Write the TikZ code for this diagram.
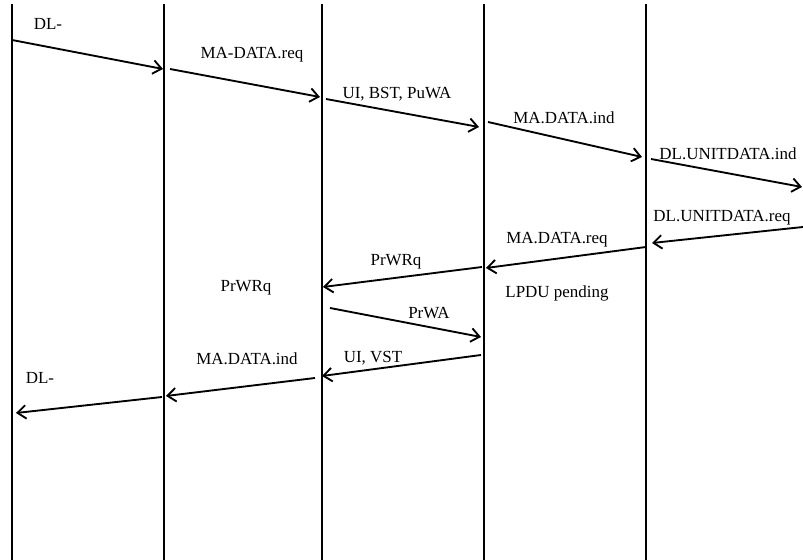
\documentclass[tikz,border=0pt]{standalone}
\usepackage{fontspec}
\setmainfont{Liberation Serif}
\usetikzlibrary{arrows.meta, positioning}

\tikzset{
  life/.style={line width=1.1pt},
  msg/.style={line width=1.1pt, -{Straight Barb[length=5pt, width=8pt, line width=1.1pt]}},
  lbl/.style={font=\fontsize{10}{12}\selectfont, inner sep=0pt}
}

\begin{document}
\begin{tikzpicture}[x=0.59pt, y=-0.59pt]
  \useasboundingbox (0,0) rectangle (803,560);

  % lifelines
  \foreach \n/\x in {la/12, lb/164, lc/322, ld/484, le/646} {
    \draw[life] (\x,4) coordinate (\n-top) -- (\x,560) coordinate (\n-bot);
  }

  % end points of the messages
  \coordinate (p1) at (12,40);   \coordinate (q1) at (163,69);
  \coordinate (p2) at (170,69);  \coordinate (q2) at (320,97);
  \coordinate (p3) at (326,99);  \coordinate (q3) at (479,127);
  \coordinate (p4) at (488,122); \coordinate (q4) at (642,157);
  \coordinate (p5) at (651,159); \coordinate (q5) at (802,187);
  \coordinate (p6) at (803,227); \coordinate (q6) at (652,243);
  \coordinate (p7) at (646,247); \coordinate (q7) at (486,268);
  \coordinate (p8) at (482,267); \coordinate (q8) at (323,287);
  \coordinate (p9) at (330,308); \coordinate (q9) at (481,337);
  \coordinate (p10) at (481,355); \coordinate (q10) at (322,376);
  \coordinate (p11) at (315,378); \coordinate (q11) at (166,396);
  \coordinate (p12) at (162,397); \coordinate (q12) at (16,413);

  \foreach \i in {1,...,12} {
    \draw[msg] (p\i) -- (q\i);
  }

  % labels
  \node[lbl] (dlout) at (48,24) {DL-};
  \node[lbl] (madreq) at (252,55) {MA-DATA.req};
  \node[lbl] (uibst) at (397,94) {UI, BST, PuWA};
  \node[lbl] (maind) at (564,118) {MA.DATA.ind};
  \node[lbl] (dluind) at (728,154) {DL.UNITDATA.ind};
  \node[lbl] (dlureq) at (722,218) {DL.UNITDATA.req};
  \node[lbl] (mareq) at (557,240) {MA.DATA.req};
  \node[lbl] (prwrqa) at (396,262) {PrWRq};
  \node[lbl] (prwrqb) at (246,288) {PrWRq};
  \node[lbl] (lpdu) at (557,293) {LPDU pending};
  \node[lbl] (prwa) at (429,313) {PrWA};
  \node[lbl] (uivst) at (373,358) {UI, VST};
  \node[lbl] (maindb) at (247,359) {MA.DATA.ind};
  \node[lbl] (dlin) at (40,378) {DL-};
\end{tikzpicture}
\end{document}
